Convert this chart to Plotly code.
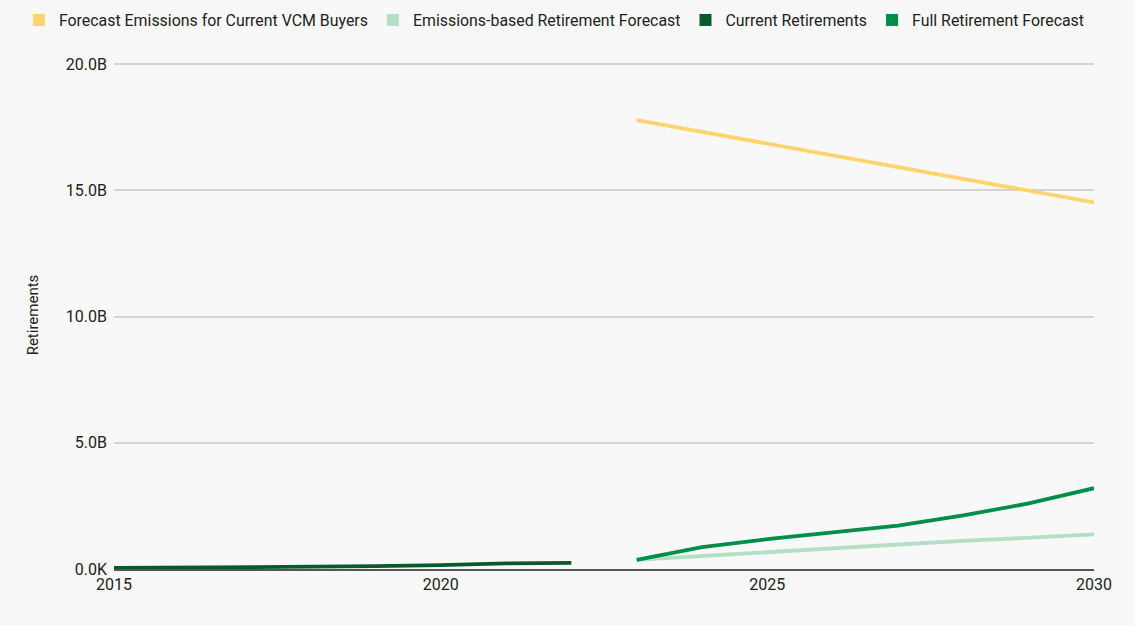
import plotly.graph_objects as go

years_hist = [2015, 2016, 2017, 2018, 2019, 2020, 2021, 2022]
current_retirements = [0.04e9, 0.05e9, 0.06e9, 0.08e9, 0.11e9, 0.15e9, 0.22e9, 0.24e9]

years_fc = [2023, 2024, 2025, 2026, 2027, 2028, 2029, 2030]
forecast_emissions = [17.78e9, 17.31e9, 16.85e9, 16.38e9, 15.91e9, 15.44e9, 14.98e9, 14.52e9]
emissions_based = [0.36e9, 0.52e9, 0.68e9, 0.83e9, 0.97e9, 1.11e9, 1.24e9, 1.37e9]
full_retirement = [0.36e9, 0.87e9, 1.18e9, 1.46e9, 1.72e9, 2.12e9, 2.60e9, 3.20e9]

y_tickvals = [0, 5e9, 10e9, 15e9, 20e9]
y_ticktext = ["0.0K", "5.0B", "10.0B", "15.0B", "20.0B"]
x_tickvals = [2015, 2020, 2025, 2030]

names = ["Forecast Emissions for Current VCM Buyers", "Emissions-based Retirement Forecast",
         "Current Retirements", "Full Retirement Forecast"]
colors = ["#ffd36e", "#b4dfc7", "#0a5a2e", "#008f48"]

fig = go.Figure()
series = [
    (years_fc, forecast_emissions, 0),
    (years_fc, emissions_based, 1),
    (years_hist, current_retirements, 2),
    (years_fc, full_retirement, 3),
]
for xs, ys, i in series:
    fig.add_trace(go.Scatter(x=xs, y=ys, mode="lines", name=names[i],
                             line=dict(color=colors[i], width=3.8),
                             showlegend=False, hoverinfo="x+y"))
for i in range(4):
    fig.add_trace(go.Scatter(x=[None], y=[None], mode="markers", name=names[i],
                             marker=dict(symbol="square", size=12, color=colors[i]),
                             showlegend=True))

fig.update_layout(
    width=1135, height=625,
    paper_bgcolor="#f8f8f8", plot_bgcolor="#f8f8f8",
    margin=dict(l=114, r=41, t=61, b=56, autoexpand=False),
    font=dict(family="Roboto", size=16, color="#222222"),
    legend=dict(orientation="h", xref="paper", yref="paper",
                x=-0.097, y=1.047, xanchor="left", yanchor="bottom",
                font=dict(size=15.9, color="#222222"), bgcolor="rgba(0,0,0,0)"),
    xaxis=dict(range=[2015, 2030], tickvals=x_tickvals, ticktext=[str(v) for v in x_tickvals],
               showgrid=False, zeroline=False, showline=True, linecolor="#555555", linewidth=2,
               ticks="", tickfont=dict(size=16, color="#222222")),
    yaxis=dict(range=[0, 20.12e9], tickvals=y_tickvals, ticktext=y_ticktext,
               showgrid=True, gridcolor="#d4d4d4", gridwidth=1.5, zeroline=False,
               ticks="", ticklabelstandoff=6, tickfont=dict(size=16, color="#222222"),
               title=dict(text="Retirements", font=dict(size=15, color="#222222"), standoff=23)),
)

fig.write_html("out.html", config={"displayModeBar": False},
               post_script="document.body.style.margin='0';document.body.style.background='#f8f8f8';")
